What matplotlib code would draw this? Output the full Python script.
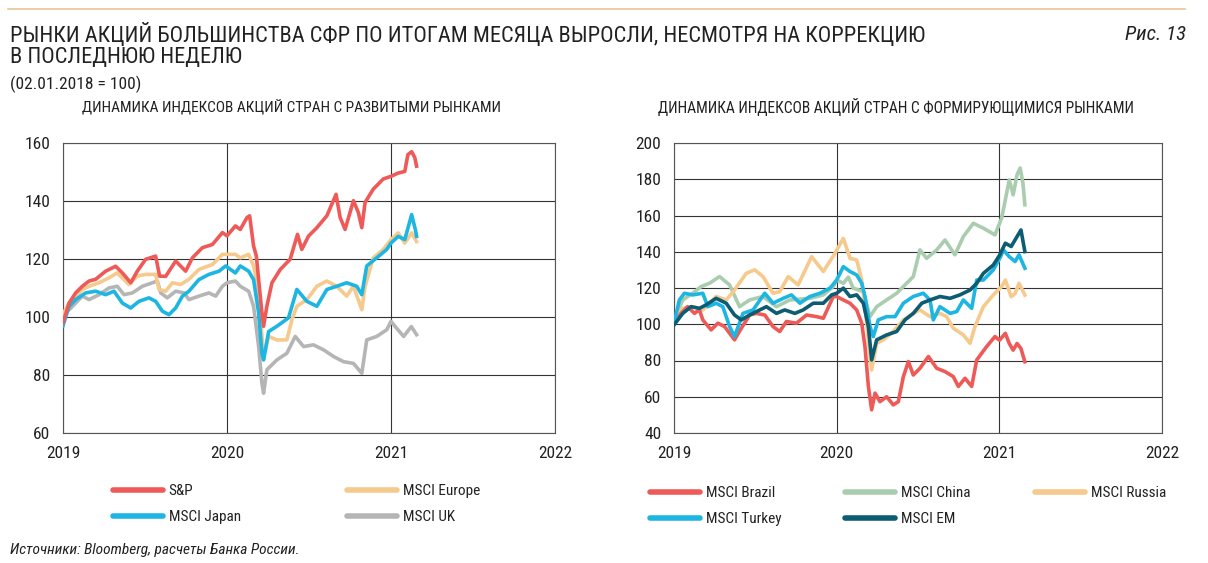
import matplotlib
matplotlib.use("Agg")
import matplotlib.pyplot as plt
from matplotlib.lines import Line2D

plt.rcParams['font.family'] = ['Roboto Condensed', 'DejaVu Sans Condensed', 'Liberation Sans', 'DejaVu Sans']

# ---- left panel: developed markets (x in years since 2019) ----
sp_x = [0, .037, .077, .118, .159, .199, .26, .321, .362, .413, .453, .504, .565, .589, .626, .687, .748, .789, .85, .911, .972,
        1.0, 1.051, 1.081, 1.122, 1.138, 1.162, 1.179, 1.193, 1.213, 1.223, 1.243, 1.274, 1.325, 1.385, 1.43, 1.456, 1.497,
        1.548, 1.609, 1.665, 1.69, 1.72, 1.771, 1.801, 1.822, 1.842, 1.892, 1.953, 2.0, 2.042, 2.084, 2.103, 2.126, 2.145, 2.156]
sp_y = [98, 104.8, 108.3, 110.6, 112.4, 113, 115.8, 117.5, 115.2, 111.8, 115.8, 119.9, 121, 114.1, 114, 119.3, 115.8, 120.4, 123.9, 125, 129.1,
        128, 131.4, 130.2, 134.3, 134.9, 124.5, 121, 112.9, 101.4, 96.8, 103.7, 111.8, 116.4, 119.9, 128.5, 123.3, 127.9,
        130.8, 134.9, 142.3, 134.3, 130.2, 140.1, 136, 130.8, 139.5, 144.1, 147.6, 148.5, 149.6, 150.2, 156, 157, 155, 152]

eu_x = [0, .037, .077, .118, .159, .22, .28, .331, .402, .453, .504, .565, .585, .626, .667, .717, .768, .829, .911, .972,
        1.0, 1.051, 1.081, 1.132, 1.162, 1.193, 1.213, 1.223, 1.254, 1.304, 1.365, 1.396, 1.426, 1.487, 1.548, 1.609,
        1.669, 1.73, 1.771, 1.822, 1.842, 1.892, 1.953, 2.0, 2.044, 2.084, 2.126, 2.156]
eu_y = [101, 104.8, 107, 109.5, 110.6, 111.8, 113.5, 115.2, 111.2, 114.1, 114.7, 114.7, 109.5, 108.9, 111.8, 111.2, 113, 116.4, 118.1, 121.6,
        121.6, 121.6, 120.4, 121.6, 117.6, 109.5, 93.3, 86, 93.3, 92.1, 92.1, 99.1, 103.7, 106, 110.6, 112.4,
        110.6, 107.2, 110.6, 102.5, 110.6, 120.4, 123.3, 126.7, 129, 125.5, 129, 126]

jp_x = [0, .037, .077, .138, .199, .26, .311, .362, .413, .463, .524, .565, .606, .646, .687, .728, .768, .829, .89, .951, .992,
        1.051, 1.081, 1.132, 1.162, 1.193, 1.213, 1.223, 1.254, 1.304, 1.375, 1.426, 1.487, 1.548, 1.609, 1.669, 1.73,
        1.791, 1.822, 1.852, 1.913, 1.974, 2.0, 2.044, 2.084, 2.126, 2.149, 2.156]
jp_y = [97, 103.7, 106, 108.3, 108.9, 107.7, 108.9, 104.8, 103.1, 105.4, 106.6, 105.4, 102, 100.8, 103.1, 107.2, 108.9, 112.9, 114.7, 115.8, 117.6,
        115.2, 117.6, 115.8, 112.9, 101.4, 87.5, 85.2, 95, 96.8, 99.7, 109.5, 105.4, 103.7, 109.5, 110.6, 111.8,
        110.6, 107.7, 117.6, 120.4, 123.3, 125.5, 127.8, 126.7, 135.3, 130, 127.8]

uk_x = [0, .037, .077, .118, .159, .22, .28, .331, .372, .423, .484, .545, .575, .596, .636, .687, .738, .768, .829, .89, .931, .972,
        1.0, 1.051, 1.081, 1.132, 1.162, 1.193, 1.213, 1.223, 1.243, 1.304, 1.365, 1.416, 1.467, 1.527, 1.588, 1.649,
        1.71, 1.771, 1.822, 1.852, 1.913, 1.974, 2.0, 2.033, 2.077, 2.124, 2.156]
uk_y = [101, 102.5, 104.8, 107.2, 106, 107.7, 110, 110.6, 107.7, 108.3, 110.6, 111.8, 112.4, 108.3, 106.6, 108.9, 108.3, 106, 107.2, 108.3, 107.2, 110.6,
        111.8, 112.4, 110.6, 108.9, 103.7, 89.8, 77.1, 73.7, 81.8, 85.2, 87.5, 93.3, 89.8, 90.4, 88.7, 86.4,
        84.6, 84, 80.6, 92.1, 93.3, 95.6, 98.5, 96.2, 93.3, 96.7, 93.9]

# ---- right panel: emerging markets ----
br_x = [0, .043, .084, .126, .156, .177, .228, .27, .311, .372, .414, .465, .506, .558, .609, .65, .691, .753, .815, .877, .918, .979,
        1.0, 1.041, 1.082, 1.123, 1.154, 1.174, 1.195, 1.215, 1.236, 1.266, 1.307, 1.348, 1.379, 1.41, 1.441, 1.471,
        1.512, 1.564, 1.615, 1.666, 1.717, 1.748, 1.789, 1.83, 1.861, 1.922, 1.973, 2.001, 2.037, 2.061, 2.085, 2.109, 2.133, 2.157]
br_y = [100.5, 106, 109.7, 106, 108, 102.4, 96.9, 100.6, 98.7, 91.4, 97.8, 105.1, 106, 105.1, 98.7, 96, 101.5, 100.6, 105.1, 104.2, 103.3, 115.3,
        115.3, 113.4, 111.6, 107.9, 100.6, 87.7, 65.7, 52.8, 62, 57.3, 60, 55.5, 57.3, 71.1, 79.4, 72,
        75.7, 82.2, 75.7, 73.9, 71.1, 65.7, 70.2, 65.7, 80.3, 87.7, 93.2, 91.2, 95, 89.4, 85.7, 89.4, 86.6, 79.3]

cn_x = [0, .054, .115, .167, .218, .28, .342, .403, .465, .547, .63, .712, .835, .918, .979,
        1.0, 1.041, 1.072, 1.102, 1.164, 1.205, 1.246, 1.307, 1.369, 1.43, 1.471, 1.512, 1.553, 1.615, 1.666, 1.727,
        1.779, 1.84, 1.902, 1.973, 2.014, 2.037, 2.061, 2.085, 2.109, 2.128, 2.145, 2.157]
cn_y = [102.4, 113.4, 117.1, 120.8, 122.6, 126.3, 121.7, 109.7, 113.4, 115.3, 109.7, 113.4, 114.3, 116.2, 120.8,
        124.4, 122.6, 126, 119.9, 118, 104.2, 109.7, 113.4, 117.1, 122.6, 126.3, 141, 136.4, 141, 146.5, 138.3,
        148.4, 155.7, 153, 149.3, 158.5, 168.7, 179.7, 171.4, 182.5, 186.2, 177.9, 165.9]

ru_x = [0, .054, .115, .177, .259, .321, .372, .444, .496, .547, .609, .65, .702, .763, .846, .918, .99,
        1.041, 1.082, 1.123, 1.154, 1.174, 1.205, 1.215, 1.246, 1.287, 1.348, 1.41, 1.471, 1.512, 1.574, 1.635, 1.676,
        1.717, 1.779, 1.82, 1.85, 1.902, 1.963, 2.014, 2.037, 2.073, 2.097, 2.121, 2.157]
ru_y = [102.4, 108.8, 109.7, 107.9, 115.3, 113.4, 118.9, 128.1, 130, 126.3, 117.1, 118, 126.3, 121.7, 137.3, 129.1, 139.2,
        147.4, 136.4, 135.5, 124.5, 109.7, 82.2, 74.8, 89.5, 91.4, 96, 102.4, 106, 107.9, 104.2, 106, 104.2,
        97.8, 94.1, 89.5, 98.7, 109.7, 116.2, 120.8, 124.4, 115.2, 117, 122.6, 116.1]

tr_x = [0, .033, .064, .115, .177, .208, .259, .3, .342, .372, .424, .486, .558, .609, .671, .722, .774, .835, .897, .959,
        1.0, 1.041, 1.082, 1.123, 1.154, 1.174, 1.205, 1.225, 1.256, 1.307, 1.359, 1.41, 1.471, 1.533, 1.574, 1.594,
        1.635, 1.697, 1.738, 1.779, 1.83, 1.861, 1.902, 1.963, 2.006, 2.025, 2.061, 2.097, 2.121, 2.157]
tr_y = [100.5, 113.4, 117.1, 116.2, 117.1, 109.7, 111.6, 109.7, 98.7, 93.2, 106, 107.9, 117.1, 111.6, 114.3, 116.2, 111.6, 115.3, 117.1, 119.9,
        124.4, 131.8, 129.1, 127.2, 122.6, 115.3, 98.7, 93.2, 102.4, 104.2, 104.2, 111.6, 115.3, 117.1, 113.4, 102.4,
        109.7, 106, 107, 113.4, 108.8, 124.4, 124.4, 130, 137, 141, 137.3, 134.6, 138.3, 130.9]

em_x = [0, .054, .105, .156, .198, .259, .321, .372, .414, .465, .527, .568, .63, .681, .743, .794, .856, .918, .969,
        1.0, 1.041, 1.082, 1.123, 1.164, 1.195, 1.215, 1.246, 1.307, 1.369, 1.42, 1.471, 1.523, 1.574, 1.635, 1.697,
        1.758, 1.82, 1.861, 1.902, 1.963, 2.001, 2.037, 2.073, 2.109, 2.133, 2.157]
em_y = [99.6, 106, 109.7, 108.8, 110.7, 114.3, 111.6, 105.1, 102.4, 105.1, 107.9, 109.7, 106, 107.9, 106, 107.9, 111.6, 111.6, 116.2,
        117.1, 119.9, 115.3, 116.2, 111.6, 98.7, 80.3, 91.4, 94.1, 96, 102.4, 106, 111.6, 113.4, 115.3, 114.3,
        116.2, 118.9, 122.6, 128.1, 132.7, 138, 144.7, 142.9, 148.4, 152, 140.1]

year_ticks = [2019, 2020, 2021, 2022]

RED = '#EE5A57'
ORANGE = '#F6C98C'
BLUE = '#1DB5E2'
GREY = '#B5B5B5'
GREEN = '#A9CDAE'
TEAL = '#0C5C73'
TXT = '#222222'

fig = plt.figure(figsize=(12.08, 5.63), dpi=100)
W, H = 1208, 563


def make_axes(x0, x1, ylim, ystep):
    ax = fig.add_axes([x0 / W, 1 - 433 / H, (x1 - x0) / W, (433 - 143) / H])
    ax.set_xlim(2019, 2022)
    ax.set_ylim(*ylim)
    ax.set_xticks(year_ticks)
    ax.set_xticklabels([str(y) for y in year_ticks])
    ax.set_yticks(range(ylim[0], ylim[1] + 1, ystep))
    ax.grid(True, color='#333333', linewidth=0.8)
    ax.set_axisbelow(True)
    for s in ax.spines.values():
        s.set_color('#555555')
        s.set_linewidth(0.8)
    ax.tick_params(length=0, labelsize=12.5, pad=9, colors=TXT)
    return ax


ax1 = make_axes(63, 555, (60, 160), 20)
lw = 2.6
l_sp, = ax1.plot([2019 + v for v in sp_x], sp_y, color=RED, lw=lw, zorder=5)
l_uk, = ax1.plot([2019 + v for v in uk_x], uk_y, color=GREY, lw=lw, zorder=2)
l_eu, = ax1.plot([2019 + v for v in eu_x], eu_y, color=ORANGE, lw=lw, zorder=3)
l_jp, = ax1.plot([2019 + v for v in jp_x], jp_y, color=BLUE, lw=lw, zorder=4)

ax2 = make_axes(674, 1162, (40, 200), 20)
l_cn, = ax2.plot([2019 + v for v in cn_x], cn_y, color=GREEN, lw=lw, zorder=2)
l_ru, = ax2.plot([2019 + v for v in ru_x], ru_y, color=ORANGE, lw=lw, zorder=3)
l_br, = ax2.plot([2019 + v for v in br_x], br_y, color=RED, lw=lw, zorder=4)
l_tr, = ax2.plot([2019 + v for v in tr_x], tr_y, color=BLUE, lw=lw, zorder=5)
l_em, = ax2.plot([2019 + v for v in em_x], em_y, color=TEAL, lw=lw, zorder=6)


# one legend per column so every column starts where it does in the original
def legend_column(colors, labels, x, y_top):
    handles = [Line2D([], [], color=c, lw=4, solid_capstyle='round') for c in colors]
    leg = fig.legend(handles, labels, loc='upper left', bbox_to_anchor=(x / W, 1 - y_top / H),
                     frameon=False, fontsize=11, handlelength=3.3, handletextpad=0.35,
                     labelspacing=0.8, borderpad=0, borderaxespad=0)
    for t in leg.get_texts():
        t.set_color(TXT)


legend_column([RED, BLUE], ['S&P', 'MSCI Japan'], 113, 484)
legend_column([ORANGE, GREY], ['MSCI Europe', 'MSCI UK'], 347, 484)
legend_column([RED, BLUE], ['MSCI Brazil', 'MSCI Turkey'], 650, 486)
legend_column([GREEN, TEAL], ['MSCI China', 'MSCI EM'], 845, 486)
legend_column([ORANGE], ['MSCI Russia'], 1035, 486)

# texts
fig.add_artist(Line2D([8 / W, 1185 / W], [1 - 9 / H, 1 - 9 / H], color='#E8C594', lw=1.2))
fig.text(10 / W, 1 - 35 / H, 'РЫНКИ АКЦИЙ БОЛЬШИНСТВА СФР ПО ИТОГАМ МЕСЯЦА ВЫРОСЛИ, НЕСМОТРЯ НА КОРРЕКЦИЮ',
         fontsize=16.1, va='center', ha='left', color=TXT)
fig.text(10 / W, 1 - 58 / H, 'В ПОСЛЕДНЮЮ НЕДЕЛЮ', fontsize=16.1, va='center', ha='left', color=TXT)
fig.text(1186 / W, 1 - 35 / H, 'Рис. 13', fontsize=15, style='italic', va='center', ha='right', color=TXT)
fig.text(10 / W, 1 - 84 / H, '(02.01.2018 = 100)', fontsize=12.5, va='center', ha='left', color=TXT)
fig.text(82 / W, 1 - 107 / H, 'ДИНАМИКА ИНДЕКСОВ АКЦИЙ СТРАН С РАЗВИТЫМИ РЫНКАМИ', fontsize=11.1,
         va='center', ha='left', color=TXT)
fig.text(658 / W, 1 - 107 / H, 'ДИНАМИКА ИНДЕКСОВ АКЦИЙ СТРАН С ФОРМИРУЮЩИМИСЯ РЫНКАМИ', fontsize=11.2,
         va='center', ha='left', color=TXT)
fig.text(10 / W, 1 - 550 / H, 'Источники: Bloomberg, расчеты Банка России.', fontsize=11.1, style='italic',
         va='center', ha='left', color=TXT)

fig.savefig('out.png', dpi=100)
